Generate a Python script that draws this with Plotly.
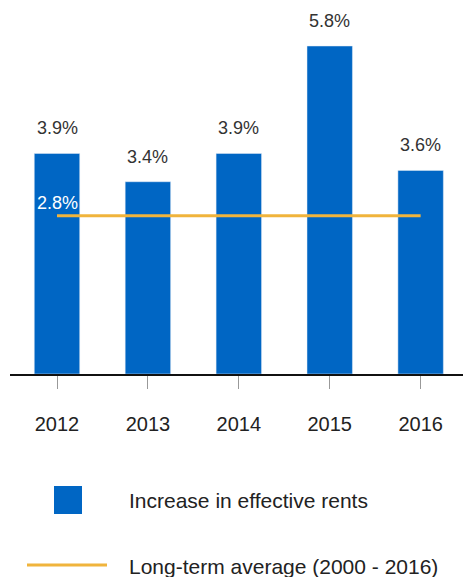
import plotly.graph_objects as go

years = ["2012", "2013", "2014", "2015", "2016"]
rent_increase = [3.9, 3.4, 3.9, 5.8, 3.6]
long_term_avg = 2.8
bar_label = "Increase in effective rents"
line_label = "Long-term average (2000 - 2016)"

BLUE = "#0066C4"
GOLD = "#F0B43C"
FONT = "Liberation Sans, Arial, sans-serif"
W, H = 463, 577

fig = go.Figure()
fig.add_trace(go.Bar(x=years, y=rent_increase, marker_color=BLUE, width=0.5,
                     name=bar_label, showlegend=False, hoverinfo="skip"))
fig.add_trace(go.Scatter(x=years, y=[long_term_avg] * len(years), mode="lines",
                         line=dict(color=GOLD, width=3), name=line_label,
                         showlegend=False, hoverinfo="skip"))

for i, v in enumerate(rent_increase):
    fig.add_annotation(x=i, y=v, text=f"{v:.1f}%", showarrow=False,
                       yanchor="middle", yshift=25,
                       font=dict(family=FONT, size=18, color="#333333"))
fig.add_annotation(x=0, y=long_term_avg, text=f"{long_term_avg:.1f}%",
                   showarrow=False, yanchor="middle", yshift=13,
                   font=dict(family=FONT, size=18, color="white"))

# legend keys
fig.add_shape(type="rect", xref="paper", yref="paper",
              x0=54 / W, x1=82 / W, y0=1 - 514 / H, y1=1 - 486 / H,
              fillcolor=BLUE, line=dict(width=0))
fig.add_shape(type="line", xref="paper", yref="paper",
              x0=27 / W, x1=107 / W, y0=1 - 565 / H, y1=1 - 565 / H,
              line=dict(color=GOLD, width=3))
fig.add_annotation(xref="paper", yref="paper", x=127 / W, y=1 - 500 / H,
                   xanchor="left", yanchor="middle", showarrow=False, text=bar_label,
                   font=dict(family=FONT, size=21, color="#222222"))
fig.add_annotation(xref="paper", yref="paper", x=127 / W, y=1 - 566 / H,
                   xanchor="left", yanchor="middle", showarrow=False, text=line_label,
                   font=dict(family=FONT, size=21, color="#222222"))

fig.update_layout(
    width=W, height=H, margin=dict(l=0, r=0, t=0, b=0),
    paper_bgcolor="white", plot_bgcolor="white", showlegend=False,
    xaxis=dict(type="category", domain=[10 / W, 1], range=[-0.517, 4.466],
               showline=True, linecolor="#111111", linewidth=2,
               ticks="outside", ticklen=13, tickcolor="#999999", tickwidth=1,
               ticklabelstandoff=18, showgrid=False, zeroline=False,
               tickfont=dict(family=FONT, size=20, color="#222222")),
    yaxis=dict(domain=[1 - 374 / H, 1], range=[0, 374 / 56.55], visible=False,
               showgrid=False, zeroline=False),
)

fig.write_html("out.html", config={"displayModeBar": False, "staticPlot": True},
               post_script="document.body.style.margin='0';document.body.style.overflow='hidden';")
